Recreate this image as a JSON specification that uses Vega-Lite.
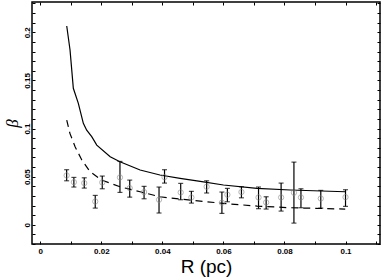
{
  "$schema": "https://vega.github.io/schema/vega-lite/v6.json",
  "width": 348,
  "height": 242,
  "autosize": {"type": "none"},
  "padding": {"left": 32, "top": 2, "right": 2, "bottom": 33},
  "config": {
    "view": {"stroke": "black", "strokeWidth": 1.5},
    "axis": {
      "grid": false,
      "domain": false,
      "tickColor": "black",
      "tickSize": -3,
      "tickWidth": 1,
      "labelFont": "Liberation Sans",
      "labelFontWeight": "bold",
      "labelFontSize": 8,
      "labelColor": "black",
      "titleColor": "black"
    }
  },
  "datasets": {
    "obs": [
      {"R": 0.00863, "beta": 0.0513, "lo": 0.0457, "hi": 0.0572},
      {"R": 0.0110, "beta": 0.0443, "lo": 0.0392, "hi": 0.0492},
      {"R": 0.0144, "beta": 0.0433, "lo": 0.0381, "hi": 0.0488},
      {"R": 0.0180, "beta": 0.0242, "lo": 0.0173, "hi": 0.0305},
      {"R": 0.0203, "beta": 0.0440, "lo": 0.0374, "hi": 0.0506},
      {"R": 0.0261, "beta": 0.0492, "lo": 0.0336, "hi": 0.0658},
      {"R": 0.0293, "beta": 0.0381, "lo": 0.0287, "hi": 0.0464},
      {"R": 0.0340, "beta": 0.0340, "lo": 0.0270, "hi": 0.0399},
      {"R": 0.0389, "beta": 0.0260, "lo": 0.0122, "hi": 0.0392},
      {"R": 0.0407, "beta": 0.0495, "lo": 0.0433, "hi": 0.0572},
      {"R": 0.0460, "beta": 0.0336, "lo": 0.0260, "hi": 0.0430},
      {"R": 0.0495, "beta": 0.0284, "lo": 0.0225, "hi": 0.0347},
      {"R": 0.0545, "beta": 0.0395, "lo": 0.0330, "hi": 0.0457},
      {"R": 0.0595, "beta": 0.0229, "lo": 0.0118, "hi": 0.0340},
      {"R": 0.0613, "beta": 0.0312, "lo": 0.0239, "hi": 0.0378},
      {"R": 0.0659, "beta": 0.0340, "lo": 0.0280, "hi": 0.0395},
      {"R": 0.0715, "beta": 0.0284, "lo": 0.0167, "hi": 0.0392},
      {"R": 0.0740, "beta": 0.0232, "lo": 0.0163, "hi": 0.0291},
      {"R": 0.0789, "beta": 0.0284, "lo": 0.0142, "hi": 0.0433},
      {"R": 0.0831, "beta": 0.0333, "lo": 0.0017, "hi": 0.0651},
      {"R": 0.0854, "beta": 0.0284, "lo": 0.0177, "hi": 0.0374},
      {"R": 0.0919, "beta": 0.0273, "lo": 0.0173, "hi": 0.0357},
      {"R": 0.1000, "beta": 0.0287, "lo": 0.0191, "hi": 0.0364}
    ],
    "solid": [
      {"R": 0.00866, "beta": 0.2066},
      {"R": 0.00974, "beta": 0.1816},
      {"R": 0.01082, "beta": 0.1418},
      {"R": 0.01246, "beta": 0.1262},
      {"R": 0.0141, "beta": 0.1054},
      {"R": 0.0152, "beta": 0.0983},
      {"R": 0.01685, "beta": 0.0915},
      {"R": 0.0185, "beta": 0.0828},
      {"R": 0.0229, "beta": 0.0707},
      {"R": 0.0261, "beta": 0.0655},
      {"R": 0.0327, "beta": 0.0569},
      {"R": 0.0392, "beta": 0.0517},
      {"R": 0.0458, "beta": 0.0482},
      {"R": 0.0524, "beta": 0.0450},
      {"R": 0.0600, "beta": 0.0413},
      {"R": 0.0710, "beta": 0.0378},
      {"R": 0.0819, "beta": 0.0361},
      {"R": 0.0999, "beta": 0.0343}
    ],
    "dashed": [
      {"R": 0.00866, "beta": 0.1088},
      {"R": 0.0097, "beta": 0.0950},
      {"R": 0.0114, "beta": 0.0811},
      {"R": 0.0136, "beta": 0.0673},
      {"R": 0.0163, "beta": 0.0551},
      {"R": 0.0201, "beta": 0.0465},
      {"R": 0.0261, "beta": 0.0395},
      {"R": 0.0327, "beta": 0.0343},
      {"R": 0.0392, "beta": 0.0291},
      {"R": 0.0458, "beta": 0.0267},
      {"R": 0.0524, "beta": 0.0246},
      {"R": 0.0600, "beta": 0.0222},
      {"R": 0.0710, "beta": 0.0194},
      {"R": 0.0819, "beta": 0.0177},
      {"R": 0.0999, "beta": 0.0163}
    ]
  },
  "layer": [
    {
      "data": {"name": "obs"},
      "mark": {"type": "rule", "color": "black", "strokeWidth": 1.2},
      "encoding": {
        "x": {
          "field": "R", "type": "quantitative",
          "scale": {"domain": [-0.00272, 0.1113], "nice": false, "zero": false},
          "axis": {
            "orient": "bottom",
            "values": [0, 0.01, 0.02, 0.03, 0.04, 0.05, 0.06, 0.07, 0.08, 0.09, 0.1, 0.11],
            "labelExpr": "indexof(['0','0.02','0.04','0.06','0.08','0.1'], format(datum.value, '~g')) >= 0 ? format(datum.value, '~g') : ''",
            "labelPadding": 6,
            "title": "R (pc)",
            "titleFont": "Liberation Sans",
            "titleFontSize": 19,
            "titleFontWeight": "normal",
            "titleBaseline": "alphabetic",
            "titleY": 28
          }
        },
        "y": {
          "field": "lo", "type": "quantitative",
          "scale": {"domain": [-0.02, 0.2315], "nice": false, "zero": false},
          "axis": {
            "orient": "left",
            "values": [-0.02, -0.01, 0, 0.01, 0.02, 0.03, 0.04, 0.05, 0.06, 0.07, 0.08, 0.09, 0.1, 0.11, 0.12, 0.13, 0.14, 0.15, 0.16, 0.17, 0.18, 0.19, 0.2, 0.21, 0.22, 0.23],
            "labelExpr": "indexof(['0','0.05','0.1','0.15','0.2'], format(datum.value, '~g')) >= 0 ? format(datum.value, '~g') : ''",
            "labelAngle": -90,
            "labelAlign": "center",
            "labelBaseline": "bottom",
            "labelPadding": 4,
            "title": "β",
            "titleFont": "Liberation Serif",
            "titleFontStyle": "italic",
            "titleFontWeight": "normal",
            "titleFontSize": 17,
            "titlePadding": 2
          }
        },
        "y2": {"field": "hi"}
      }
    },
    {
      "data": {"name": "obs"},
      "mark": {"type": "tick", "orient": "horizontal", "color": "black", "size": 5, "thickness": 1.2},
      "encoding": {
        "x": {"field": "R", "type": "quantitative", "axis": null},
        "y": {"field": "lo", "type": "quantitative", "axis": null}
      }
    },
    {
      "data": {"name": "obs"},
      "mark": {"type": "tick", "orient": "horizontal", "color": "black", "size": 5, "thickness": 1.2},
      "encoding": {
        "x": {"field": "R", "type": "quantitative", "axis": null},
        "y": {"field": "hi", "type": "quantitative", "axis": null}
      }
    },
    {
      "data": {"name": "solid"},
      "mark": {"type": "line", "color": "black", "strokeWidth": 1.2},
      "encoding": {
        "x": {
          "field": "R", "type": "quantitative",
          "axis": {"orient": "top", "values": [0, 0.01, 0.02, 0.03, 0.04, 0.05, 0.06, 0.07, 0.08, 0.09, 0.1, 0.11], "labels": false, "title": null}
        },
        "y": {
          "field": "beta", "type": "quantitative",
          "axis": {"orient": "right", "values": [-0.02, -0.01, 0, 0.01, 0.02, 0.03, 0.04, 0.05, 0.06, 0.07, 0.08, 0.09, 0.1, 0.11, 0.12, 0.13, 0.14, 0.15, 0.16, 0.17, 0.18, 0.19, 0.2, 0.21, 0.22, 0.23], "labels": false, "title": null}
        }
      }
    },
    {
      "data": {"name": "dashed"},
      "mark": {"type": "line", "color": "black", "strokeWidth": 1.2, "strokeDash": [7, 5]},
      "encoding": {
        "x": {"field": "R", "type": "quantitative", "axis": null},
        "y": {"field": "beta", "type": "quantitative", "axis": null}
      }
    },
    {
      "data": {"name": "obs"},
      "mark": {"type": "point", "shape": "circle", "filled": false, "color": "#8a8a8a", "size": 28, "strokeWidth": 0.9},
      "encoding": {
        "x": {"field": "R", "type": "quantitative", "axis": null},
        "y": {"field": "beta", "type": "quantitative", "axis": null}
      }
    }
  ],
  "resolve": {"axis": {"x": "independent", "y": "independent"}}
}
